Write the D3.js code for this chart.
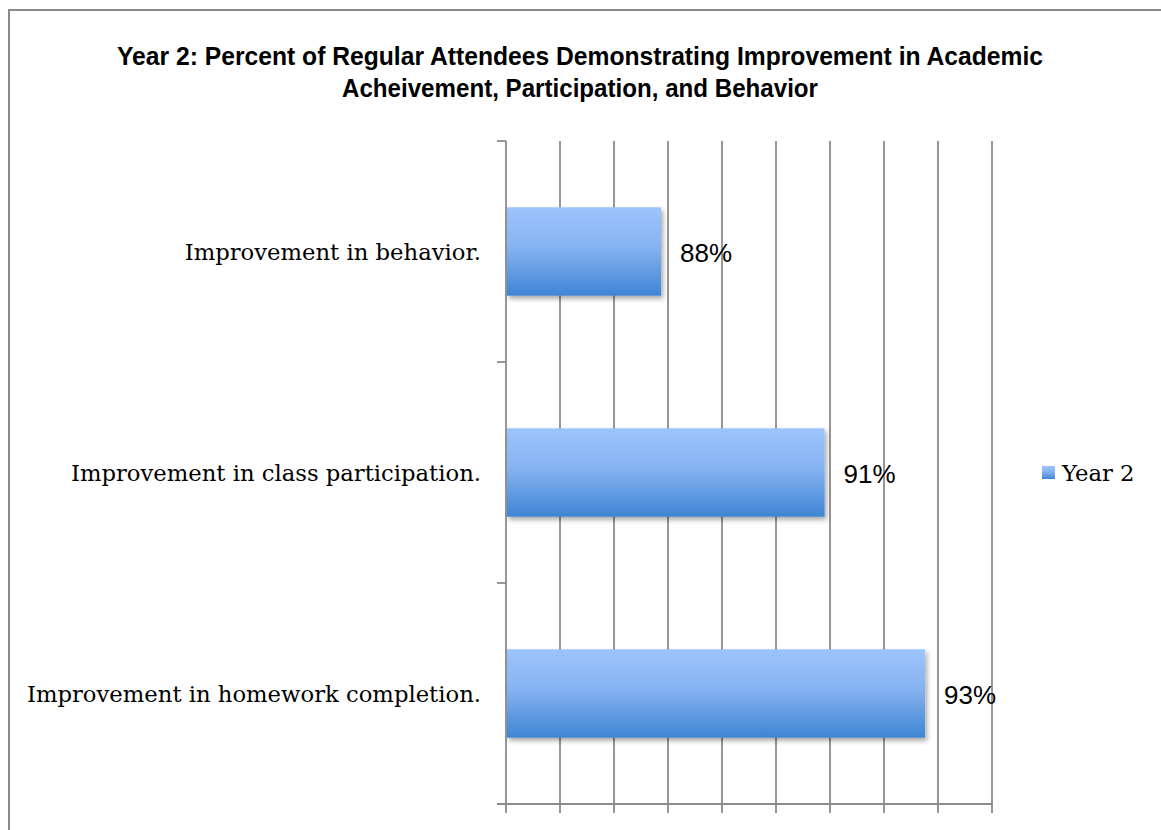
<!DOCTYPE html>
<html>
<head>
<meta charset="utf-8">
<script src="https://cdn.jsdelivr.net/npm/d3@7"></script>
<style>
  html, body { margin: 0; padding: 0; background: #fff; }
  svg { display: block; }
</style>
</head>
<body>
<script>
// ---- data ----
const titleLines = [
  "Year 2: Percent of Regular Attendees Demonstrating Improvement in Academic",
  "Acheivement, Participation, and Behavior"
];
const categories = [
  "Improvement in behavior.",
  "Improvement in class participation.",
  "Improvement in homework completion."
];
const values = [87.87, 90.9, 92.76];
const valueLabels = ["88%", "91%", "93%"];
const seriesName = "Year 2";
const xDomain = [85, 94];
const xTicks = [85, 86, 87, 88, 89, 90, 91, 92, 93, 94];

// ---- layout ----
const W = 1161, H = 830;
const plot = { left: 506, right: 992, top: 141, bottom: 804 };

const svg = d3.select("body").append("svg").attr("width", W).attr("height", H);
const defs = svg.append("defs");
const grad = defs.append("linearGradient").attr("id", "barGrad")
  .attr("x1", 0).attr("y1", 0).attr("x2", 0).attr("y2", 1);
grad.append("stop").attr("offset", "0%").attr("stop-color", "#9dc4fc");
grad.append("stop").attr("offset", "45%").attr("stop-color", "#86b3f1");
grad.append("stop").attr("offset", "100%").attr("stop-color", "#3f85d4");
const filt = defs.append("filter").attr("id", "shadow")
  .attr("x", "-10%").attr("y", "-10%").attr("width", "130%").attr("height", "140%");
filt.append("feDropShadow").attr("dx", 2).attr("dy", 3).attr("stdDeviation", 2.5)
  .attr("flood-color", "#000").attr("flood-opacity", 0.35);

// outer frame
svg.append("rect").attr("x", 9).attr("y", 10).attr("width", W + 20).attr("height", H + 20)
  .attr("fill", "#fff").attr("stroke", "#8a8a8a").attr("stroke-width", 2);

const x = d3.scaleLinear().domain(xDomain).range([plot.left, plot.right]);
const y = d3.scaleBand().domain(categories).range([plot.top, plot.bottom])
  .paddingInner(0.6).paddingOuter(0.3);

const gridColor = "#8c8c8c";
// vertical gridlines (with ticks below axis)
svg.append("g").selectAll("line").data(xTicks).join("line")
  .attr("x1", d => x(d)).attr("x2", d => x(d))
  .attr("y1", plot.top).attr("y2", plot.bottom + 9)
  .attr("stroke", gridColor).attr("stroke-width", 1.8);

// x axis line
svg.append("line").attr("x1", plot.left - 9).attr("x2", plot.right + 1)
  .attr("y1", plot.bottom).attr("y2", plot.bottom)
  .attr("stroke", gridColor).attr("stroke-width", 1.8);

// y axis ticks at band boundaries
const step = y.step();
const bounds = d3.range(categories.length + 1).map(i => plot.top + i * step);
svg.append("g").selectAll("line").data(bounds).join("line")
  .attr("x1", plot.left - 9).attr("x2", plot.left)
  .attr("y1", d => d).attr("y2", d => d)
  .attr("stroke", gridColor).attr("stroke-width", 1.8);

// bars
svg.append("g").selectAll("rect").data(values).join("rect")
  .attr("x", x(xDomain[0]) + 1)
  .attr("y", (d, i) => y(categories[i]))
  .attr("width", d => x(d) - x(xDomain[0]) - 1)
  .attr("height", y.bandwidth())
  .attr("fill", "url(#barGrad)")
  .attr("filter", "url(#shadow)");

// value labels
svg.append("g").selectAll("text").data(values).join("text")
  .attr("x", d => x(d) + 19)
  .attr("y", (d, i) => y(categories[i]) + y.bandwidth() / 2 + 10)
  .attr("font-family", "'Liberation Sans', Arial, sans-serif")
  .attr("font-size", 26)
  .attr("fill", "#000")
  .text((d, i) => valueLabels[i]);

// category labels
const catG = svg.append("g");
const catTexts = catG.selectAll("text").data(categories).join("text")
  .attr("x", 481)
  .attr("y", d => y(d) + y.bandwidth() / 2 + 8)
  .attr("text-anchor", "end")
  .attr("font-family", "'DejaVu Serif', serif")
  .attr("font-size", 22)
  .attr("fill", "#000")
  .text(d => d);
// match the width of the reference's serif face
const longest = d3.max(catTexts.nodes(), n => n.getComputedTextLength());
const k = 454 / longest;
catTexts.each(function() {
  const w = this.getComputedTextLength();
  d3.select(this).attr("textLength", w * k).attr("lengthAdjust", "spacingAndGlyphs");
});

// title
const titleWidths = [926, 476];
svg.append("g").selectAll("text").data(titleLines).join("text")
  .attr("x", 580)
  .attr("y", (d, i) => 65 + i * 32)
  .attr("text-anchor", "middle")
  .attr("font-family", "'Liberation Sans Narrow', 'Liberation Sans', Arial, sans-serif")
  .attr("font-weight", "bold")
  .attr("font-size", 26)
  .attr("fill", "#000")
  .attr("textLength", (d, i) => titleWidths[i])
  .attr("lengthAdjust", "spacingAndGlyphs")
  .text(d => d);

// legend
const lg = svg.append("g");
lg.append("rect").attr("x", 1042).attr("y", 466).attr("width", 13).attr("height", 13)
  .attr("fill", "url(#barGrad)");
const lt = lg.append("text").attr("x", 1062).attr("y", 481)
  .attr("font-family", "'DejaVu Serif', serif")
  .attr("font-size", 22)
  .attr("fill", "#000")
  .text(seriesName);
lt.attr("textLength", lt.node().getComputedTextLength() * k).attr("lengthAdjust", "spacingAndGlyphs");
</script>
</body>
</html>
